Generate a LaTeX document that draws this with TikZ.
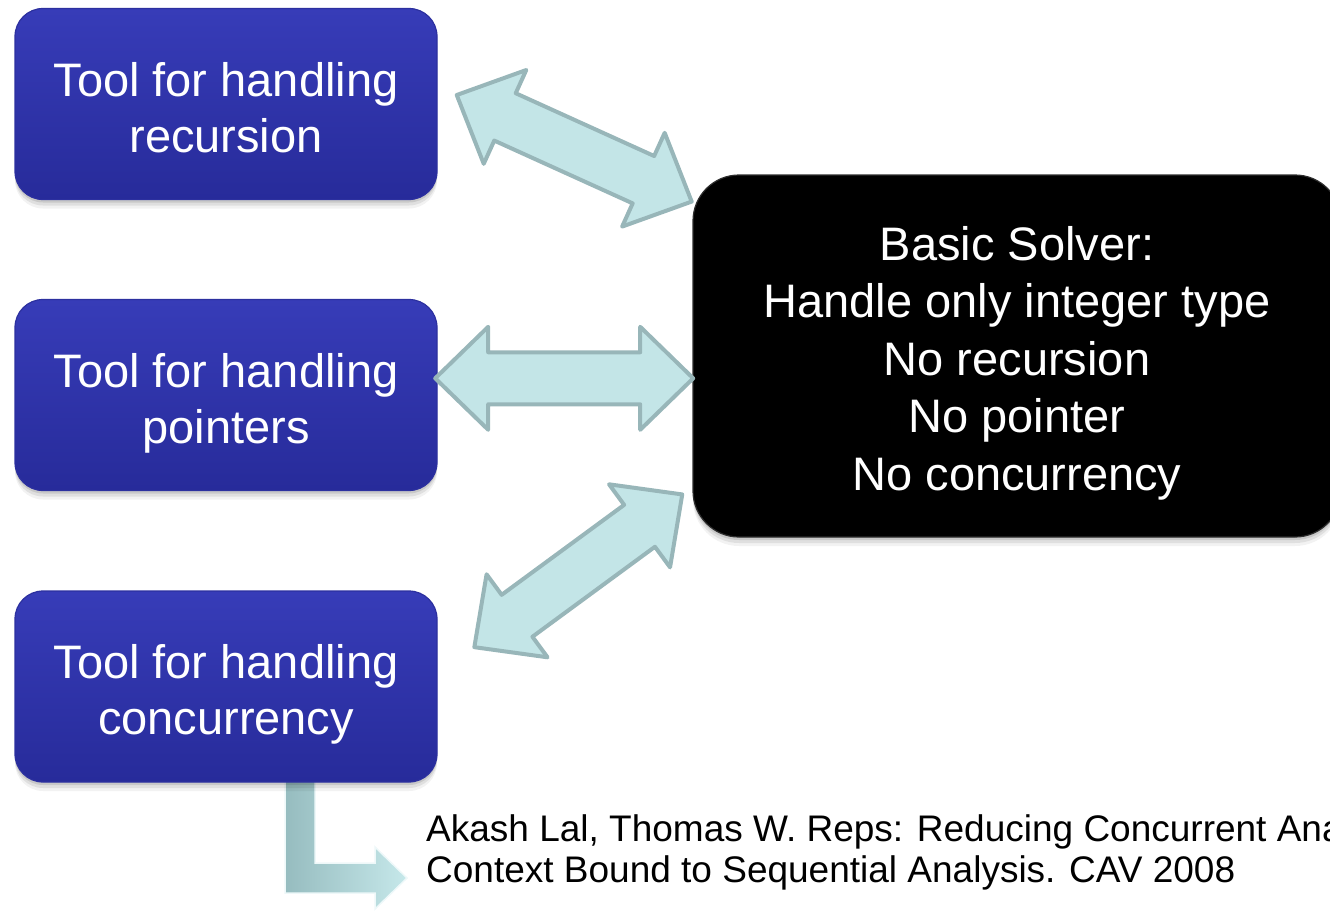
\documentclass[tikz,border=0pt]{standalone}
\usepackage{fontspec}
\setmainfont{Liberation Sans}
\definecolor{boxtop}{HTML}{373CB8}
\definecolor{boxbot}{HTML}{272B9A}
\definecolor{boxedge}{HTML}{2C309F}
\definecolor{arrowfill}{HTML}{C3E5E7}
\definecolor{arrowline}{HTML}{98B6B9}
\definecolor{bentdark}{HTML}{96BCBF}
\definecolor{bentlight}{HTML}{C6E8EA}
% invisible rules: a tall first line and a fixed depth for the last line,
% so that the text sits a little below the middle of each box
\newcommand\toolhead{\rule{0pt}{51pt}}
\newcommand\solverhead{\rule{0pt}{49pt}}
\newcommand\lastdepth{\rule[-11pt]{0pt}{11pt}}
\begin{document}
\begin{tikzpicture}[x=1pt,y=1pt,
  softshadow/.style={
    preaction={fill=black,opacity=.10,transform canvas={yshift=-3pt}},
    preaction={fill=black,opacity=.08,transform canvas={yshift=-6pt}},
    preaction={fill=black,opacity=.05,transform canvas={yshift=-9pt}}},
  toolbox/.style={softshadow, rounded corners=28pt, top color=boxtop,
    bottom color=boxbot, draw=boxedge, line width=1.2pt,
    minimum width=422pt, minimum height=191pt, inner sep=0pt,
    align=center, text=white, font=\fontsize{47}{56}\selectfont},
  solverbox/.style={softshadow, rounded corners=46pt, fill=black,
    draw=black!82, line width=1.2pt,
    minimum width=648pt, minimum height=362pt, inner sep=0pt,
    align=center, text=white, font=\fontsize{47}{57.5}\selectfont},
  linkarrow/.style={fill=arrowfill, draw=arrowline, line width=4pt,
    line join=round},
  bentarrow/.style={left color=bentdark, right color=bentlight,
    draw=white!70!bentlight, line width=1.5pt},
  cite/.style={inner sep=0pt, font=\fontsize{37}{41}\selectfont, text=black}]

\useasboundingbox (0,0) rectangle (1330,-910);
\clip (0,0) rectangle (1330,-910);

% bent arrow running from the concurrency tool down to the reference
\draw[bentarrow] (285,-781) -- (315,-781) -- (315,-863) -- (375,-863)
  -- (375,-847) -- (407,-878) -- (375,-909) -- (375,-893) -- (285,-893) -- cycle;

% the three tools
\node[toolbox] (rec)  at (226,-104)
  {\toolhead Tool for handling\\recursion\lastdepth};
\node[toolbox] (ptr)  at (226,-395)
  {\toolhead Tool for handling\\pointers\lastdepth};
\node[toolbox] (conc) at (226,-686.5)
  {\toolhead Tool for handling\\concurrency\lastdepth};

% the solver they build on
\node[solverbox] (solver) at (1017,-356)
  {\solverhead Basic Solver:\\Handle only integer type\\No recursion\\No pointer\\No concurrency\lastdepth};

% two-headed block arrows between the tools and the solver
\foreach \c/\a in {{574.2,-148.3}/-24.4, {564.2,-378.3}/0, {578.3,-570.8}/36.3}
  \draw[linkarrow, shift={(\c)}, rotate=\a]
    (-129,0) -- (-76,51.5) -- (-76,26) -- (76,26) -- (76,51.5) -- (129,0)
    -- (76,-51.5) -- (76,-26) -- (-76,-26) -- (-76,-51.5) -- cycle;

% reference
\node[cite, anchor=base west] (ref1) at (426,-841)
  {Akash Lal, Thomas W. Reps: Reducing Concurrent Analysis Under a};
\node[cite, anchor=base west] (ref2) at (426,-882)
  {Context Bound to Sequential Analysis. CAV 2008};
\end{tikzpicture}
\end{document}
